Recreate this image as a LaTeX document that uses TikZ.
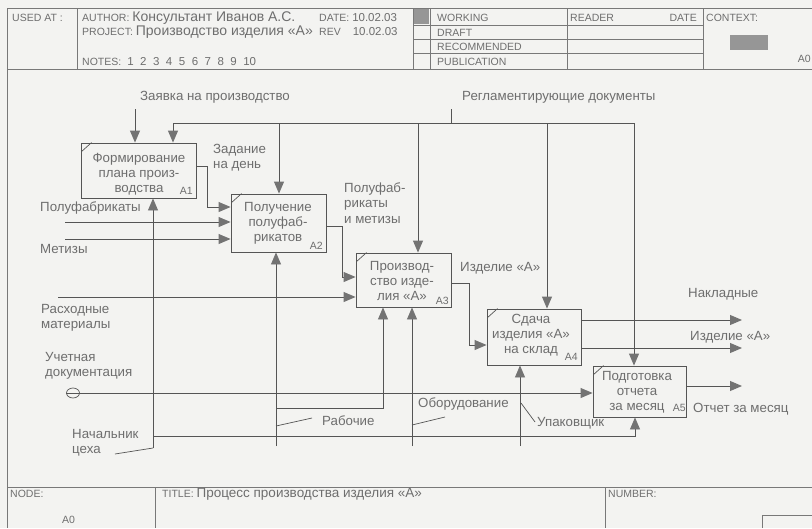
\documentclass[tikz,border=0pt]{standalone}
\usepackage{fontspec}
\setmainfont{Liberation Sans}
\usetikzlibrary{arrows.meta,calc}
\definecolor{bgc}{RGB}{243,243,241}
\definecolor{lnc}{RGB}{85,85,85}
\definecolor{frc}{RGB}{120,120,120}
\definecolor{txc}{RGB}{110,110,110}
\definecolor{ahc}{RGB}{115,115,115}
\definecolor{grc}{RGB}{150,150,150}
\newcommand\fsz[2]{\fontsize{#1}{#2}\selectfont}
\begin{document}
\begin{tikzpicture}[x=1pt,y=-1pt,
  ln/.style={draw=lnc,line width=0.9pt},
  fr/.style={draw=frc,line width=0.8pt},
  arr/.style={ln,-{Triangle[length=12pt,width=10pt,color=ahc]}},
  box/.style={draw=lnc,line width=0.9pt,inner sep=0pt},
  btext/.style={text=txc,align=center,inner sep=0pt,font=\fsz{13.3}{15.2}},
  num/.style={text=txc,inner sep=0pt,font=\fsz{10.5}{12},anchor=base east},
  lbl/.style={text=txc,align=left,inner sep=0pt,anchor=west,font=\fsz{13.3}{15.2}},
  hd/.style={text=txc,inner sep=0pt,anchor=west,font=\fsz{10.5}{12}}]
\fill[bgc] (0,0) rectangle (812,528);
\useasboundingbox (0,0) rectangle (812,528);

% ---------- header frame ----------
\draw[fr] (7,8) -- (812,8);
\draw[fr] (7,69) -- (812,69);
\draw[fr] (7,8) -- (7,528);
\foreach \xx in {77,413,430,567,703} \draw[fr] (\xx,8) -- (\xx,69);
\foreach \yy in {25,39,53} \draw[fr] (413,\yy) -- (703,\yy);
\fill[grc] (414,9) rectangle (429,24);
\fill[grc] (730,35) rectangle (768,50);

\node[hd] (usedat) at (12,18) {USED AT :};
\node[hd] (author) at (82,18) {AUTHOR: {\fsz{14}{15}Консультант Иванов А.С.}};
\node[hd] (project) at (82,32) {PROJECT: {\fsz{14}{15}Производство изделия «А»}};
\node[hd] (notes) at (82,62) {NOTES:\hspace{6pt}{\fsz{11.5}{13}1\hspace{6.5pt}2\hspace{6.5pt}3\hspace{6.5pt}4\hspace{6.5pt}5\hspace{6.5pt}6\hspace{6.5pt}7\hspace{6.5pt}8\hspace{6.5pt}9\hspace{6.5pt}10}};
\node[hd] (date) at (319,18) {DATE: {\fsz{11.5}{13}10.02.03}};
\node[hd] (rev) at (319,32) {REV\hspace{12pt}{\fsz{11.5}{13}10.02.03}};
\node[hd] (working) at (437,18) {WORKING};
\node[hd] (draft) at (437,33) {DRAFT};
\node[hd] (recomm) at (437,47) {RECOMMENDED};
\node[hd] (public) at (437,62) {PUBLICATION};
\node[hd] (reader) at (570,18) {READER};
\node[hd,anchor=east] (rdate) at (697,18) {DATE};
\node[hd] (context) at (706,18) {CONTEXT:};
\node[hd,anchor=east] (ctxa) at (811,59) {A0};

% ---------- footer ----------
\draw[fr] (7,487) -- (812,487);
\draw[fr] (155,487) -- (155,528);
\draw[fr] (605,487) -- (605,528);
\draw[fr] (762,528) -- (762,515) -- (812,515);
\node[hd] (node) at (10,494) {NODE:};
\node[hd] (nodea) at (62,520) {A0};
\node[hd] (title) at (162,494) {TITLE: {\fsz{13.5}{14}Процесс производства изделия «А»}};
\node[hd] (number) at (608,494) {NUMBER:};

% ---------- boxes ----------
\node[box,minimum width=115,minimum height=55] (A1) at (138.5,170.5) {};
\node[box,minimum width=95,minimum height=58] (A2) at (278.5,223) {};
\node[box,minimum width=95,minimum height=54] (A3) at (403.5,280) {};
\node[box,minimum width=94,minimum height=56] (A4) at (534,337) {};
\node[box,minimum width=93,minimum height=51] (A5) at (639.5,391.5) {};
\foreach \b in {A1,A2,A3,A4,A5}
  \draw[ln,line width=0.7pt] ($(\b.north west)+(1,9)$) -- ++(10,-9);

\node[btext] (t1) at (139,174) {Формирование\\плана произ-\\водства};
\node[btext] (t2) at (278,223) {Получение\\полуфаб-\\рикатов};
\node[btext] (t3) at (402,281) {Производ-\\ство изде-\\лия «А»};
\node[btext] (t4) at (531,335) {Сдача\\изделия «А»\\на склад};
\node[btext] (t5) at (637,392) {Подготовка\\отчета\\за месяц};
\node[num] (n1) at (193,194) {A1};
\node[num] (n2) at (323,249) {A2};
\node[num] (n3) at (449,304) {A3};
\node[num] (n4) at (578,360) {A4};
\node[num] (n5) at (686,411) {A5};

% ---------- controls ----------
\coordinate (zv) at (135,109);
\draw[arr] (zv) -- (A1.north -| zv);
\coordinate (rgt) at (451,109);
\coordinate (rg) at (451,123);
\draw[ln] (rgt) -- (rg);
\draw[arr] (rg) -| (A1.north -| 173,0);
\draw[arr] (rg) -| (A2.north -| 279,0);
\draw[arr] (rg) -| (A3.north -| 418,0);
\draw[arr] (rg) -| (A4.north -| 547,0);
\draw[arr] (rg) -| (A5.north -| 634,0);

% ---------- flows ----------
\draw[arr] (A1.east |- 0,166) -- ++(11,0) |- (A2.west |- 0,207);
\coordinate (pf) at (65,222);
\draw[arr] (pf) -- (A2.west |- pf);
\coordinate (mz) at (65,239);
\draw[arr] (mz) -- (A2.west |- mz);
\draw[arr] (A2.east |- 0,226) -- ++(16,0) |- (A3.west |- 0,277);
\coordinate (rm) at (58,297);
\draw[arr] (rm) -- (A3.west |- rm);
\draw[arr] (A3.east |- 0,283) -- ++(18,0) |- (A4.west |- 0,345);
\coordinate (onk) at (742,320);
\draw[arr] (A4.east |- onk) -- (onk);
\coordinate (oiz) at (742,348);
\draw[arr] (A4.east |- oiz) -- (oiz);
\coordinate (oot) at (742,386);
\draw[arr] (A5.east |- oot) -- (oot);
\coordinate (ud) at (66,393);
\draw[arr] (ud) -- (A5.west |- ud);
\draw[ln,line width=0.7pt] (73,393) ellipse[x radius=6.5,y radius=5];

% ---------- mechanisms ----------
\coordinate (nc) at (153,448);
\draw[arr] (nc) -- (A1.south -| nc);
\coordinate (ncj) at (153,436);
\draw[arr] (ncj) -| (A5.south -| 635,0);
\coordinate (ncl) at (115,454);
\draw[ln,line width=0.7pt] (ncl) -- (nc);
\coordinate (rb) at (276,446);
\draw[arr] (rb) -- (A2.south -| rb);
\coordinate (rbj) at (276,408);
\draw[arr] (rbj) -| (A3.south -| 383,0);
\coordinate (rbc1) at (276,426);
\coordinate (rbc2) at (312,418);
\draw[ln,line width=0.7pt] (rbc1) -- (rbc2);
\coordinate (ob) at (412,446);
\draw[arr] (ob) -- (A3.south -| ob);
\coordinate (obc1) at (412,425);
\coordinate (obc2) at (445,417);
\draw[ln,line width=0.7pt] (obc1) -- (obc2);
\coordinate (up) at (520,446);
\draw[arr] (up) -- (A4.south -| up);
\coordinate (upc1) at (521,403);
\coordinate (upc2) at (535,422);
\draw[ln,line width=0.7pt] (upc1) -- (upc2);

% ---------- labels ----------
\node[lbl] (lzv) at (140,97) {Заявка на производство};
\node[lbl] (lrg) at (462,97) {Регламентирующие документы};
\node[lbl] (lzd) at (213,157.5) {Задание\\на день};
\node[lbl] (lpf) at (40,208) {Полуфабрикаты};
\node[lbl] (lmz) at (40,249) {Метизы};
\node[lbl] (lpm) at (344,203) {Полуфаб-\\рикаты\\и метизы};
\node[lbl] (lrm) at (41,318) {Расходные\\материалы};
\node[lbl] (liz) at (460,268) {Изделие «А»};
\node[lbl] (lnk) at (688,294) {Накладные};
\node[lbl] (liz2) at (690,337) {Изделие «А»};
\node[lbl] (lot) at (693,409) {Отчет за месяц};
\node[lbl] (lud) at (45,366) {Учетная\\документация};
\node[lbl] (lnc) at (72,443) {Начальник\\цеха};
\node[lbl] (lrb) at (322,421) {Рабочие};
\node[lbl] (lob) at (418,404) {Оборудование};
\node[lbl] (lup) at (537,423) {Упаковщик};
\end{tikzpicture}
\end{document}
